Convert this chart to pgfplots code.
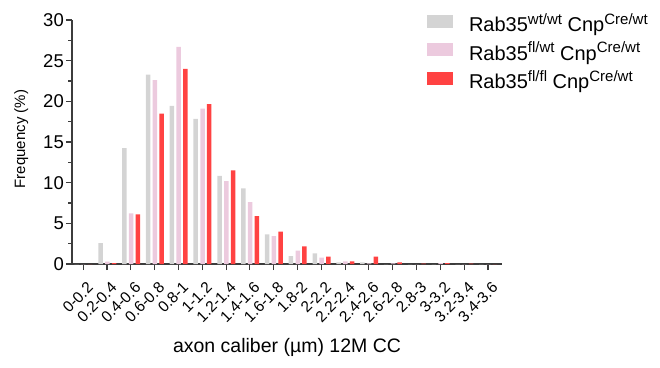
\documentclass[border=0pt]{standalone}
\usepackage{pgfplots}
\pgfplotsset{compat=1.18}
\usepackage{fontspec}
\setmainfont{Liberation Sans}
\definecolor{cgray}{RGB}{212,212,212}
\definecolor{cpink}{RGB}{236,202,222}
\definecolor{cred}{RGB}{255,66,66}
\definecolor{axcol}{RGB}{60,60,60}
\newcommand\sups[1]{\raisebox{7.8pt}{\fontsize{15}{15}\selectfont #1}}
\begin{document}
\begin{tikzpicture}[x=1pt,y=1pt]
\path[use as bounding box] (0,0) rectangle (660,367);
\begin{axis}[
  at={(72pt,103pt)}, anchor=south west,
  scale only axis, width=430pt, height=244pt,
  xmin=-0.47, xmax=17.59, ymin=0, ymax=30,
  axis lines*=left,
  axis line style={axcol, line width=1.3pt},
  every tick/.style={axcol, line width=1.1pt},
  tick align=outside, major tick length=6pt, minor tick length=3.5pt,
  /pgf/number format/assume math mode=true,
  xtick={0,...,17},
  xticklabels={0-0.2,0.2-0.4,0.4-0.6,0.6-0.8,0.8-1,1-1.2,1.2-1.4,1.4-1.6,1.6-1.8,1.8-2,2-2.2,2.2-2.4,2.4-2.6,2.6-2.8,2.8-3,3-3.2,3.2-3.4,3.4-3.6},
  x tick label style={rotate=45, anchor=north east, font=\fontsize{15.5}{15.5}\selectfont, inner sep=1pt, xshift=-4.5pt, yshift=-9pt},
  ytick={0,5,...,30}, minor ytick={2.5,7.5,...,27.5},
  y tick label style={font=\fontsize{18.5}{18.5}\selectfont, inner sep=2pt},
  ylabel={Frequency (\%)},
  ylabel style={font=\fontsize{15}{15}\selectfont, at={(axis description cs:-0.1093,0.512)}, anchor=base},
  xlabel={axon caliber (µm) 12M CC},
  xlabel style={font=\fontsize{19.5}{19.5}\selectfont, at={(axis description cs:0.5,-0.3607)}, anchor=base},
  legend cell align=left,
  legend style={draw=none, fill=none, inner sep=0pt, outer sep=0pt,
    at={(rel axis cs:0.8256,1.0287)}, anchor=north west,
    font=\fontsize{20}{23}\selectfont,
    nodes={inner sep=0pt, text height=19pt, text depth=5pt},
    row sep=4.5pt, column sep=16pt},
  legend image code/.code={\fill[#1] (0pt,-3pt) rectangle (26pt,10pt);},
]
\addplot[ybar, bar width=4.5pt, bar shift=-6.5pt, fill=cgray, draw=none] coordinates {
(0,0) (1,2.58) (2,14.24) (3,23.29) (4,19.44) (5,17.85) (6,10.85) (7,9.3) (8,3.64) (9,0.98)
(10,1.31) (11,0.2) (12,0.2) (13,0) (14,0) (15,0) (16,0) (17,0)};
\addplot[ybar, bar width=4.5pt, bar shift=0.3pt, fill=cpink, draw=none] coordinates {
(0,0) (1,0.29) (2,6.22) (3,22.6) (4,26.7) (5,19.1) (6,10.2) (7,7.6) (8,3.44) (9,1.64)
(10,0.78) (11,0.33) (12,0.08) (13,0.08) (14,0) (15,0.1) (16,0) (17,0)};
\addplot[ybar, bar width=4.5pt, bar shift=7pt, fill=cred, draw=none] coordinates {
(0,0) (1,0.1) (2,6.1) (3,18.5) (4,24.0) (5,19.65) (6,11.5) (7,5.9) (8,3.97) (9,2.17)
(10,0.9) (11,0.33) (12,0.9) (13,0.2) (14,0.05) (15,0.1) (16,0.05) (17,0)};
\legend{Rab35\sups{wt/wt} Cnp\sups{Cre/wt},
        Rab35\sups{fl/wt} Cnp\sups{Cre/wt},
        Rab35\sups{fl/fl} Cnp\sups{Cre/wt}}
\end{axis}
\end{tikzpicture}
\end{document}
